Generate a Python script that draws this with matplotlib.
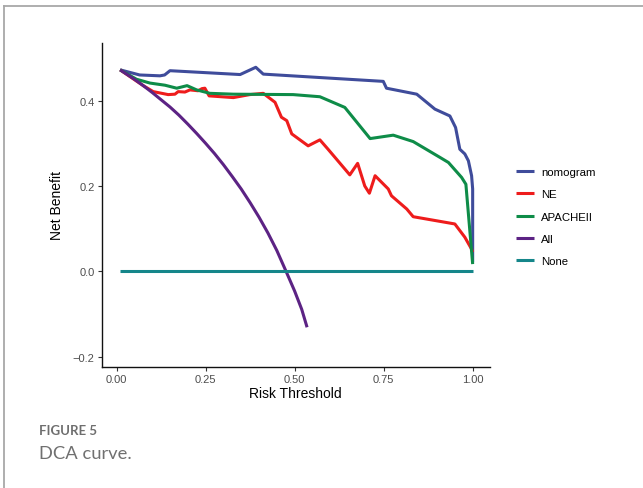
import matplotlib
matplotlib.use("Agg")
import matplotlib.pyplot as plt
from matplotlib.lines import Line2D

# values
nomo_x = [0.01, 0.065, 0.122, 0.135, 0.15, 0.347, 0.391, 0.412, 0.749, 0.758, 0.843, 0.894,
          0.936, 0.952, 0.964, 0.978, 0.988, 0.997, 1.0, 1.0]
nomo_y = [0.472, 0.460, 0.458, 0.460, 0.470, 0.461, 0.478, 0.462, 0.445, 0.429, 0.415, 0.380,
          0.364, 0.337, 0.286, 0.275, 0.259, 0.224, 0.193, 0.021]

ne_x = [0.01, 0.075, 0.103, 0.145, 0.164, 0.173, 0.192, 0.206, 0.229, 0.240, 0.248, 0.260,
        0.328, 0.374, 0.412, 0.445, 0.463, 0.478, 0.492, 0.538, 0.571, 0.594, 0.655, 0.677,
        0.697, 0.710, 0.726, 0.763, 0.772, 0.815, 0.833, 0.950, 0.978, 0.997, 1.0]
ne_y = [0.472, 0.435, 0.421, 0.414, 0.415, 0.421, 0.420, 0.425, 0.423, 0.428, 0.429, 0.411,
        0.407, 0.414, 0.417, 0.396, 0.361, 0.353, 0.322, 0.294, 0.308, 0.286, 0.226, 0.253,
        0.200, 0.183, 0.224, 0.193, 0.177, 0.146, 0.128, 0.111, 0.080, 0.052, 0.045]

apache_x = [0.01, 0.056, 0.094, 0.136, 0.169, 0.198, 0.225, 0.262, 0.328, 0.496, 0.571, 0.641,
            0.712, 0.777, 0.833, 0.908, 0.932, 0.969, 0.981, 1.0]
apache_y = [0.472, 0.450, 0.441, 0.436, 0.429, 0.435, 0.425, 0.417, 0.415, 0.414, 0.409, 0.384,
            0.311, 0.319, 0.304, 0.267, 0.255, 0.220, 0.204, 0.017]

all_x = [0.01, 0.03, 0.05, 0.075, 0.10, 0.125, 0.15, 0.175, 0.20, 0.225, 0.25, 0.275, 0.30,
         0.325, 0.35, 0.375, 0.40, 0.425, 0.45, 0.476, 0.50, 0.52, 0.535]
all_y = [0.472, 0.461, 0.450, 0.435, 0.419, 0.402, 0.385, 0.366, 0.345, 0.323, 0.300, 0.276,
         0.250, 0.222, 0.193, 0.161, 0.127, 0.090, 0.049, 0.0, -0.046, -0.089, -0.131]

none_x = [0.01, 1.0]
none_y = [0.0, 0.0]

labels = ["nomogram", "NE", "APACHEII", "All", "None"]
colors = ["#3F4C9B", "#EE1C1C", "#0E8C48", "#5C2384", "#15868A"]

plt.rcParams["font.family"] = ["Liberation Sans", "DejaVu Sans"]

fig = plt.figure(figsize=(6.43, 4.89), dpi=100)
ax = fig.add_axes([0.158, 0.248, 0.604, 0.663])

series = [(nomo_x, nomo_y), (ne_x, ne_y), (apache_x, apache_y), (all_x, all_y), (none_x, none_y)]
for (xs, ys), lab, col in zip(series, labels, colors):
    ax.plot(xs, ys, color=col, lw=2.2, label=lab, solid_joinstyle="round", solid_capstyle="butt")

ax.set_xlim(-0.042, 1.0486)
ax.set_ylim(-0.2234, 0.536)
ax.set_xticks([0.0, 0.25, 0.5, 0.75, 1.0])
ax.set_xticklabels(["0.00", "0.25", "0.50", "0.75", "1.00"])
ax.set_yticks([-0.2, 0.0, 0.2, 0.4])
ax.set_yticklabels(["\u22120.2", "0.0", "0.2", "0.4"])
ax.tick_params(labelsize=8, colors="#4d4d4d", length=3, width=0.8, pad=2)
ax.tick_params(axis="both", color="#333333")
for s in ["top", "right"]:
    ax.spines[s].set_visible(False)
for s in ["left", "bottom"]:
    ax.spines[s].set_linewidth(1.0)
    ax.spines[s].set_color("#111111")

ax.set_xlabel("Risk Threshold", fontsize=10, color="black", labelpad=2)
ax.set_ylabel("Net Benefit", fontsize=10, color="black", labelpad=6)

fig.legend(loc="center left", bbox_to_anchor=(0.793, 0.555), frameon=False, fontsize=8.2,
           handlelength=1.6, handletextpad=0.65, labelspacing=1.08, borderpad=0)

# page frame and caption
fig.add_artist(Line2D([0.006, 1.0], [0.9857, 0.9857], color="#a8a8a8", lw=1.3))
fig.add_artist(Line2D([0.006, 0.006], [0.0, 0.9857], color="#a8a8a8", lw=1.3))
fig.text(0.0607, 0.110, "FIGURE 5", fontsize=9.5, fontweight="bold", color="#6e6e6e",
         family=["Lato", "DejaVu Sans"], va="baseline")
fig.text(0.0607, 0.0613, "DCA curve.", fontsize=13.2, color="#707070",
         family=["Lato", "DejaVu Sans"], va="baseline")

fig.savefig("out.png", dpi=100)
